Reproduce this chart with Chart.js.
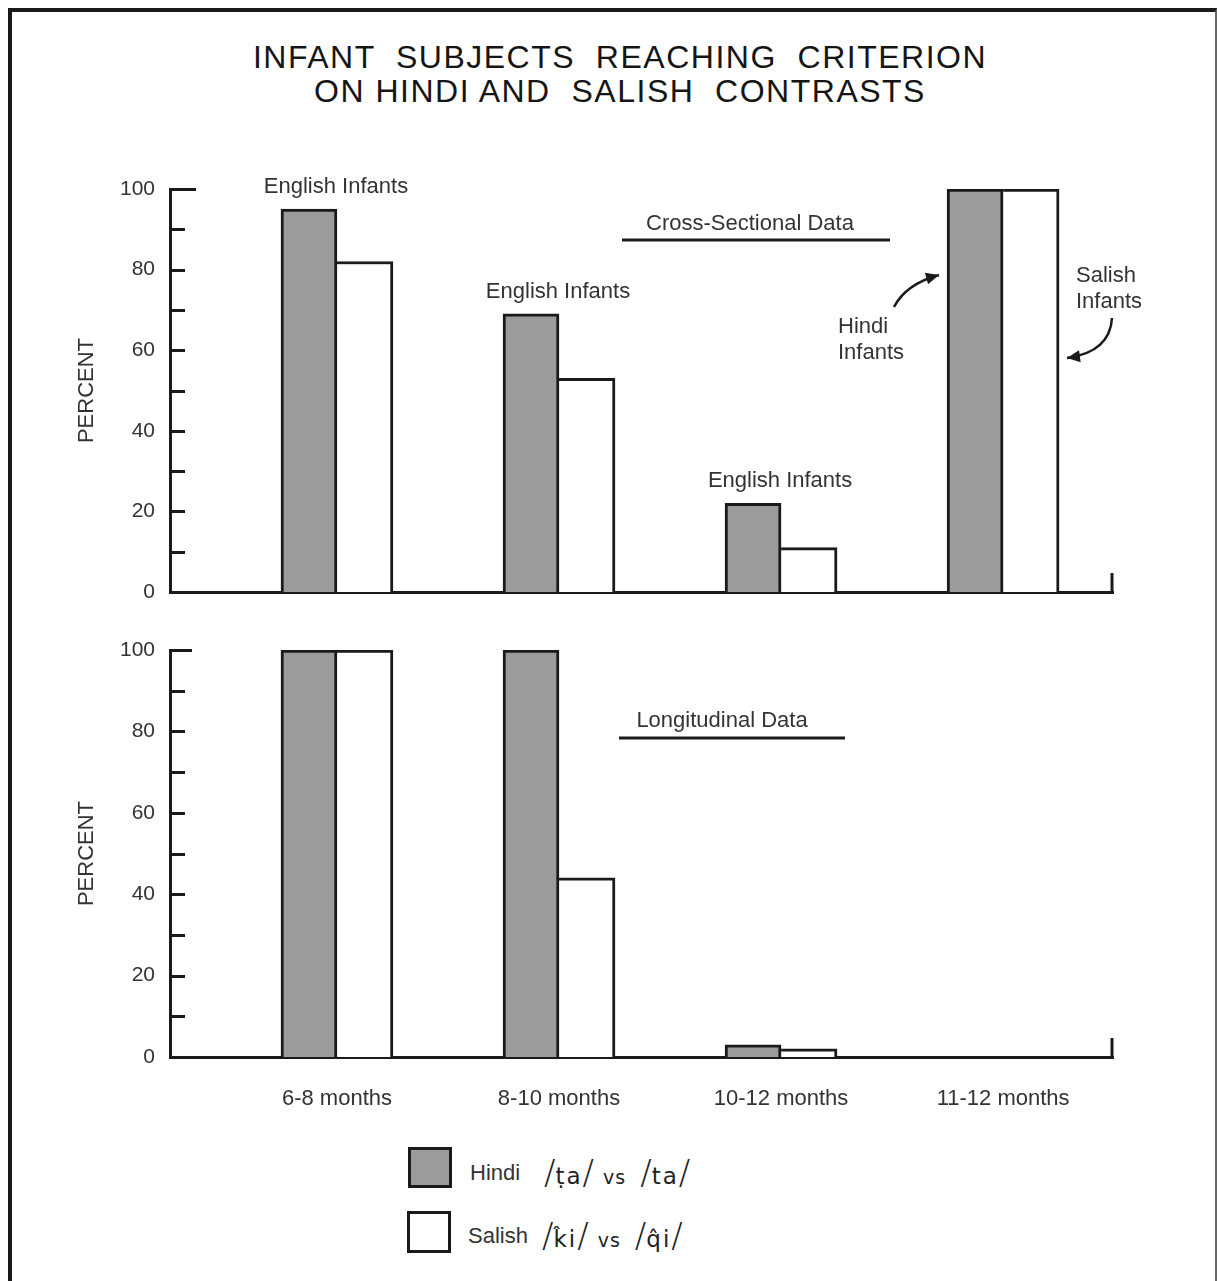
<!DOCTYPE html>
<html>
<head>
<meta charset="utf-8">
<script src="https://cdn.jsdelivr.net/npm/chart.js@4.4.1/dist/chart.umd.min.js"></script>
<style>
html,body{margin:0;padding:0;background:#fff;}
body{width:1217px;height:1281px;position:relative;overflow:hidden;font-family:"Liberation Sans",Arial,sans-serif;color:#333;}
#frame{position:absolute;left:8px;top:8px;width:1203px;height:1300px;border-left:4px solid #1a1a1a;border-top:4px solid #1a1a1a;border-right:2px solid #666;}
.title{position:absolute;left:0;width:1240px;text-align:center;font-family:"Liberation Sans",Arial,sans-serif;font-size:32px;line-height:32px;color:#151515;white-space:pre;letter-spacing:1.5px;}
canvas{position:absolute;left:0;}
.lbox{position:absolute;box-sizing:border-box;border:3px solid #1a1a1a;}
.ltext{position:absolute;font-size:22px;line-height:22px;color:#333;white-space:nowrap;}
.phon{position:absolute;font-family:"DejaVu Sans",sans-serif;color:#222;white-space:pre;line-height:34px;}
.phon .sl{font-family:"DejaVu Sans",sans-serif;font-size:34px;font-weight:300;}
.phon .ph{font-size:23px;letter-spacing:2px;}
.phon .vs{font-size:19px;letter-spacing:1px;margin:0 14px 0 9px;}
</style>
</head>
<body>
<div id="frame"></div>
<div class="title" style="top:41px;">INFANT  SUBJECTS  REACHING  CRITERION</div>
<div class="title" style="top:75px;">ON HINDI AND  SALISH  CONTRASTS</div>
<canvas id="top" width="1217" height="470" style="top:150px;"></canvas>
<canvas id="bottom" width="1217" height="500" style="top:620px;"></canvas>
<div id="legend"></div>
<script>
// ---------------- DATA ----------------
const categories = ['6-8 months', '8-10 months', '10-12 months', '11-12 months'];
const seriesNames = ['Hindi', 'Salish'];
const crossHindi  = [95, 69, 22, 100];   // Cross-Sectional Data, Hindi /ṭa/ vs /ta/
const crossSalish = [82, 53, 11, 100];   // Cross-Sectional Data, Salish /k̂i/ vs /q̂i/
const longHindi   = [100, 100, 3, 0];    // Longitudinal Data, Hindi
const longSalish  = [100, 44, 2, 0];     // Longitudinal Data, Salish
const yTickValues = [0, 10, 20, 30, 40, 50, 60, 70, 80, 90, 100];
const yTickLabels = ['0', '', '20', '', '40', '', '60', '', '80', '', '100'];
const phonetic = ['/ṭa/ vs /ta/', '/k̂i/ vs /q̂i/'];

// ---------------- STYLE ----------------
const INK = '#1a1a1a';
const TXT = '#333333';
const GRAY = '#9b9b9b';
const FONT = '"Liberation Sans", Arial, sans-serif';
const fillColors = [GRAY, '#ffffff'];

function decorPlugin(topLen) {
  return {
    id: 'decor',
    afterDraw(chart) {
      const {ctx, chartArea: a, scales: {y}} = chart;
      ctx.save();
      ctx.strokeStyle = INK; ctx.lineWidth = 3; ctx.lineCap = 'butt';
      y.ticks.forEach(t => {
        const py = Math.round(y.getPixelForValue(t.value)) + 0.5;
        const len = t.value === 100 ? topLen : 15;
        ctx.beginPath(); ctx.moveTo(a.left, py); ctx.lineTo(a.left + len, py); ctx.stroke();
      });
      ctx.beginPath(); ctx.moveTo(a.right - 1, a.bottom + 1.5); ctx.lineTo(a.right - 1, a.bottom - 19); ctx.stroke();
      ctx.restore();
    }
  };
}

function arrow(ctx, p0, c, p1) {
  ctx.beginPath(); ctx.moveTo(p0[0], p0[1]); ctx.quadraticCurveTo(c[0], c[1], p1[0], p1[1]); ctx.stroke();
  const ang = Math.atan2(p1[1] - c[1], p1[0] - c[0]);
  const L = 13, W = 6;
  const bx = p1[0] - L * Math.cos(ang), by = p1[1] - L * Math.sin(ang);
  ctx.beginPath();
  ctx.moveTo(p1[0], p1[1]);
  ctx.lineTo(bx + W * Math.sin(ang), by - W * Math.cos(ang));
  ctx.lineTo(bx - W * Math.sin(ang), by + W * Math.cos(ang));
  ctx.closePath(); ctx.fill();
}

function topNotes(T) {
  return {
    id: 'topNotes',
    afterDraw(chart) {
      const {ctx, scales: {x, y}} = chart;
      ctx.save();
      ctx.fillStyle = TXT; ctx.strokeStyle = INK;
      ctx.font = '22px ' + FONT; ctx.textAlign = 'center'; ctx.textBaseline = 'middle';
      for (let i = 0; i < 3; i++) {
        ctx.fillText('English Infants', x.getPixelForValue(i) - 1, y.getPixelForValue(crossHindi[i]) - 22);
      }
      ctx.fillText('Cross-Sectional Data', 750, 224 - T);
      ctx.lineWidth = 3;
      ctx.beginPath(); ctx.moveTo(622, 240 - T); ctx.lineTo(890, 240 - T); ctx.stroke();
      ctx.textAlign = 'left';
      ctx.fillText('Hindi', 838, 327 - T);
      ctx.fillText('Infants', 838, 353 - T);
      ctx.fillText('Salish', 1076, 276 - T);
      ctx.fillText('Infants', 1076, 302 - T);
      ctx.lineWidth = 2.5; ctx.fillStyle = INK;
      arrow(ctx, [894, 307 - T], [906, 284 - T], [939, 275 - T]);
      arrow(ctx, [1112, 318 - T], [1110, 352 - T], [1067, 358 - T]);
      ctx.restore();
    }
  };
}

function bottomNotes(T) {
  return {
    id: 'bottomNotes',
    afterDraw(chart) {
      const {ctx} = chart;
      ctx.save();
      ctx.fillStyle = TXT; ctx.strokeStyle = INK;
      ctx.font = '22px ' + FONT; ctx.textAlign = 'center'; ctx.textBaseline = 'middle';
      ctx.fillText('Longitudinal Data', 722, 721 - T);
      ctx.lineWidth = 3;
      ctx.beginPath(); ctx.moveTo(619, 738 - T); ctx.lineTo(845, 738 - T); ctx.stroke();
      ctx.restore();
    }
  };
}

function makeChart(id, hindi, salish, cfg) {
  const pos = categories.map((_, i) => i);
  const mk = (vals) => pos.map((p, i) => ({x: p, y: vals[i]}));
  return new Chart(document.getElementById(id), {
    type: 'bar',
    data: {
      datasets: [
        {label: seriesNames[0], data: mk(hindi), backgroundColor: fillColors[0], borderColor: INK,
         borderWidth: {top: 3, left: 3, right: 3, bottom: 0}, borderSkipped: 'start', barThickness: 56},
        {label: seriesNames[1], data: mk(salish), backgroundColor: fillColors[1], borderColor: INK,
         borderWidth: {top: 3, left: 0, right: 3, bottom: 0}, borderSkipped: 'start', barThickness: 56}
      ]
    },
    options: {
      responsive: false, animation: false, events: [],
      layout: {padding: {left: 60, right: 104, top: cfg.padTop, bottom: cfg.padBottom}},
      plugins: {legend: {display: false}, tooltip: {enabled: false}, title: {display: false}},
      scales: {
        x: {
          type: 'linear', offset: false, min: -0.752, max: 3.495,
          afterBuildTicks: s => { s.ticks = pos.map(v => ({value: v})); },
          ticks: {display: cfg.showX, callback: v => categories[v], font: {size: 22, family: FONT}, color: TXT,
                  padding: 29, autoSkip: false, maxRotation: 0},
          grid: {display: false, drawTicks: false},
          border: {display: true, color: INK, width: 3},
          afterFit: s => { s.height = cfg.xHeight; }
        },
        y: {
          min: 0, max: 100,
          afterBuildTicks: s => { s.ticks = yTickValues.map(v => ({value: v})); },
          ticks: {callback: v => yTickLabels[yTickValues.indexOf(v)], font: {size: 21, family: FONT}, color: TXT,
                  padding: 15, autoSkip: false},
          grid: {display: false, drawTicks: false},
          border: {display: true, color: INK, width: 3},
          title: {display: true, text: 'PERCENT', font: {size: 22, family: FONT}, color: TXT, padding: {top: 14, bottom: 0}},
          afterFit: s => { s.width = 110; }
        }
      }
    },
    plugins: cfg.plugins
  });
}

makeChart('top', crossHindi, crossSalish, {padTop: 39, padBottom: 28, xHeight: 0, showX: false,
  plugins: [decorPlugin(26), topNotes(150)]});
makeChart('bottom', longHindi, longSalish, {padTop: 30, padBottom: 0, xHeight: 63, showX: true,
  plugins: [decorPlugin(22), bottomNotes(620)]});

// ---------------- LEGEND ----------------
const legend = document.getElementById('legend');
const lrows = [{box: [408, 1147, 44, 41], tx: 470, ty: 1173, px: 544}, {box: [407, 1211, 44, 42], tx: 468, ty: 1236, px: 542}];
seriesNames.forEach((name, i) => {
  const r = lrows[i];
  const b = document.createElement('div');
  b.className = 'lbox';
  Object.assign(b.style, {left: r.box[0] + 'px', top: r.box[1] + 'px', width: r.box[2] + 'px', height: r.box[3] + 'px', background: fillColors[i]});
  legend.appendChild(b);
  const t = document.createElement('div');
  t.className = 'ltext'; t.textContent = name;
  Object.assign(t.style, {left: r.tx + 'px', top: (r.ty - 11) + 'px'});
  legend.appendChild(t);
  const p = document.createElement('div');
  p.className = 'phon';
  const parts = phonetic[i].split(' vs ');
  const fmt = s => s.split('/').map(seg => seg ? '<span class="ph">' + seg + '</span>' : '').join('<span class="sl">/</span>');
  p.innerHTML = fmt(parts[0]) + '<span class="vs">vs</span>' + fmt(parts[1]);
  Object.assign(p.style, {left: r.px + 'px', top: (r.ty - 18) + 'px'});
  legend.appendChild(p);
});
</script>
</body>
</html>
